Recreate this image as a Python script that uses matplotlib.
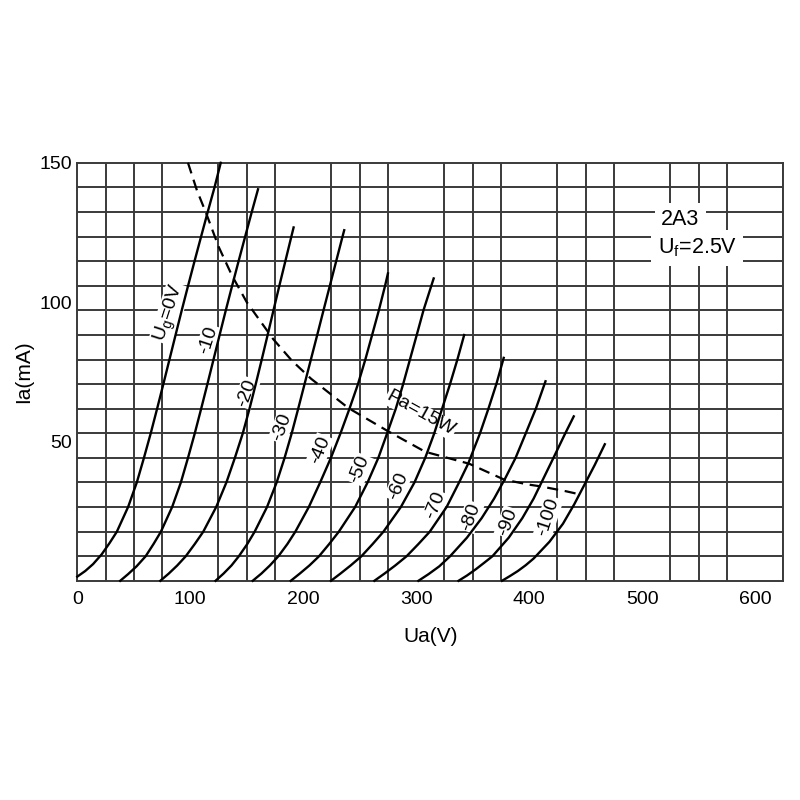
import numpy as np
import matplotlib
matplotlib.use('Agg')
import matplotlib.pyplot as plt

plt.rcParams['font.family'] = ['Liberation Sans', 'DejaVu Sans']
plt.rcParams['mathtext.fontset'] = 'custom'
plt.rcParams['mathtext.rm'] = 'Liberation Sans'
plt.rcParams['mathtext.it'] = 'Liberation Sans:italic'

# plate curves of the 2A3 (Ua in V, Ia in mA)
ug0_v = [0, 7, 14, 21.6, 28.5, 35, 45, 52.7, 59, 65, 70.7, 76.2, 81.6, 87, 92.5, 98.1, 103.8, 109.6, 115.5, 121.5, 127]
ug0_ma = [1.5, 3.5, 6, 9.5, 13.5, 17.6, 26.5, 35.3, 44.1, 52.9, 61.8, 70.6, 79.4, 88.2, 97.1, 105.9, 114.7, 123.5, 132.4, 141.2, 150]

ug10_v = [38, 45, 52.5, 60.5, 67.5, 74, 84, 91.7, 98, 104, 109.7, 115.2, 120.6, 126, 131.5, 137.1, 142.8, 148.6, 154.5, 160]
ug10_ma = [0, 2.4, 5.2, 8.8, 13.2, 17.6, 26.5, 35.3, 44.1, 52.9, 61.8, 70.6, 79.4, 88.2, 97.1, 105.9, 114.7, 123.5, 132.4, 140.5]

ug20_v = [73.5, 81, 88.5, 96, 104, 111.5, 123, 132, 139.5, 146.5, 152.5, 158, 163.3, 168.5, 173.7, 178.9, 184.2, 189.5, 191.5]
ug20_ma = [0, 2.6, 5.5, 8.8, 13.2, 17.6, 26.5, 35.3, 44.1, 52.9, 61.8, 70.6, 79.4, 88.2, 97.1, 105.9, 114.7, 123.5, 126.8]

ug30_v = [122.4, 129.5, 136.5, 143, 150.5, 157, 168, 176.5, 183.5, 189.8, 195.6, 201.2, 206.8, 212.4, 218, 223.6, 229.2, 234.8, 236.3]
ug30_ma = [0, 2.6, 5.5, 8.8, 13.2, 17.6, 26.5, 35.3, 44.1, 52.9, 61.8, 70.6, 79.4, 88.2, 97.1, 105.9, 114.7, 123.5, 125.8]

ug40_v = [155.3, 163, 170.5, 178, 186, 193, 205, 215, 224.5, 233, 241, 248.5, 255, 261, 267, 272.5, 275]
ug40_ma = [0, 2.6, 5.5, 8.8, 13.2, 17.6, 26.5, 35.3, 44.1, 52.9, 61.8, 70.6, 79.4, 88.2, 97.1, 105.9, 110.3]

ug50_v = [189, 197, 205.5, 214, 223, 231.5, 246, 257, 266.5, 275, 282, 288.5, 294.5, 300.5, 306.5, 315.5]
ug50_ma = [0, 2.6, 5.5, 8.8, 13.2, 17.6, 26.5, 35.3, 44.1, 53.7, 61.8, 70.6, 79.4, 88.2, 97.1, 108.5]

ug60_v = [224.6, 233, 242, 251.5, 261.5, 271, 286.5, 298.5, 308, 316, 323, 330, 336.5, 342.5]
ug60_ma = [0, 2.6, 5.5, 8.8, 13.2, 17.6, 26.5, 35.3, 44.1, 52.9, 61.8, 70.6, 79.4, 88.2]

ug70_v = [263, 272, 281.5, 291.5, 302, 312, 327, 338, 346, 356.5, 364, 371, 377.5]
ug70_ma = [0, 2.6, 5.5, 8.8, 13.2, 17.6, 26.5, 35.3, 42, 52.9, 61.8, 70.6, 80]

ug80_v = [302, 311, 320.5, 330, 345, 358, 369, 378.5, 388, 397, 406, 414.5]
ug80_ma = [0, 2.4, 5.2, 8.8, 15.5, 22.5, 29.5, 36.5, 44.1, 52.9, 61.8, 71.6]

ug90_v = [337.5, 345, 353, 360, 367.5, 382, 394, 404, 413, 422, 431.5, 439.5]
ug90_ma = [0, 1.9, 4.2, 6.4, 8.8, 15.5, 22.5, 29.5, 37, 44.5, 52.5, 59]

ug100_v = [376, 383, 390, 397, 404, 418, 430, 440, 449, 458, 467]
ug100_ma = [0, 1.7, 3.5, 5.6, 8, 14, 20.5, 27.5, 34.5, 41.5, 49]

# 15 W plate dissipation limit (dashed)
pa_v = [98, 106, 114, 125, 137, 150, 173.5, 190, 207, 240, 275, 308, 347, 378, 400, 410, 433, 445]
pa_ma = [150, 140, 132, 120, 109.5, 100, 86.7, 79, 72.5, 62, 53.7, 46.3, 42, 36.3, 34.5, 33.9, 32.1, 31]

curve_labels = ['U$_\\mathrm{g}$=0V', '-10', '-20', '-30', '-40', '-50', '-60', '-70', '-80', '-90', '-100']
x_ticks = [0, 100, 200, 300, 400, 500, 600]
y_ticks = [0, 50, 100, 150]

curves = [(ug0_v, ug0_ma), (ug10_v, ug10_ma), (ug20_v, ug20_ma), (ug30_v, ug30_ma),
          (ug40_v, ug40_ma), (ug50_v, ug50_ma), (ug60_v, ug60_ma), (ug70_v, ug70_ma),
          (ug80_v, ug80_ma), (ug90_v, ug90_ma), (ug100_v, ug100_ma)]

# where each grid-voltage label sits, and its angle
label_pos = [(82, 96), (116, 86.5), (150, 67.5), (181, 55), (215, 47), (250, 40),
             (284, 34), (317, 27), (348, 23), (381, 21), (417, 23)]
label_rot = [72, 72, 70, 70, 68, 68, 68, 68, 70, 70, 72]

fig = plt.figure(figsize=(8, 8), dpi=100)
ax = fig.add_axes([0.0966, 0.274, 0.8825, 0.5225])

grid_col = '#3a3a3a'
ax.set_xlim(0, 625)
ax.set_ylim(0, 150)
ax.set_xticks(x_ticks)
ax.set_yticks(y_ticks)
ax.set_xticks(np.arange(0, 626, 25), minor=True)
ax.set_yticks(np.linspace(0, 150, 18), minor=True)  # the sheet has 17 rows
ax.grid(which='minor', color=grid_col, linewidth=1.4)
ax.grid(which='major', visible=False)
ax.tick_params(which='both', length=0)
ax.tick_params(axis='x', labelsize=14, pad=7)
ax.tick_params(axis='y', labelsize=14, pad=4)
ax.set_yticklabels(['', '50', '100', '150'])
for s in ax.spines.values():
    s.set_color(grid_col)
    s.set_linewidth(1.4)
ax.set_axisbelow(True)

for v, ma in curves:
    ax.plot(v, ma, color='black', linewidth=1.7, zorder=4, clip_on=False)

ax.plot(pa_v, pa_ma, color='black', linewidth=1.6, linestyle=(0, (5, 3)), zorder=4, clip_on=False)

for txt, (lx, ly), rot in zip(curve_labels, label_pos, label_rot):
    ax.text(lx, ly, txt, fontsize=14, rotation=rot, ha='center', va='center', zorder=3,
            rotation_mode='anchor',
            bbox=dict(boxstyle='square,pad=0.05', facecolor='white', edgecolor='none'))

ax.text(304, 60, 'Pa=15W', fontsize=14, rotation=-29, ha='center', va='center', zorder=3,
        rotation_mode='anchor',
        bbox=dict(boxstyle='square,pad=0.05', facecolor='white', edgecolor='none'))

ax.text(534, 129.5, '2A3', fontsize=15.5, ha='center', va='center', zorder=3,
        bbox=dict(boxstyle='square,pad=0.3', facecolor='white', edgecolor='none'))
ax.text(549, 119.5, 'U$_\\mathrm{f}$=2.5V', fontsize=15.5, ha='center', va='center', zorder=3,
        bbox=dict(boxstyle='square,pad=0.3', facecolor='white', edgecolor='none'))

ax.set_xlabel('Ua(V)', fontsize=15, labelpad=14)
ax.set_ylabel('Ia(mA)', fontsize=15, labelpad=4)

fig.savefig('out.png', dpi=100, facecolor='white')
